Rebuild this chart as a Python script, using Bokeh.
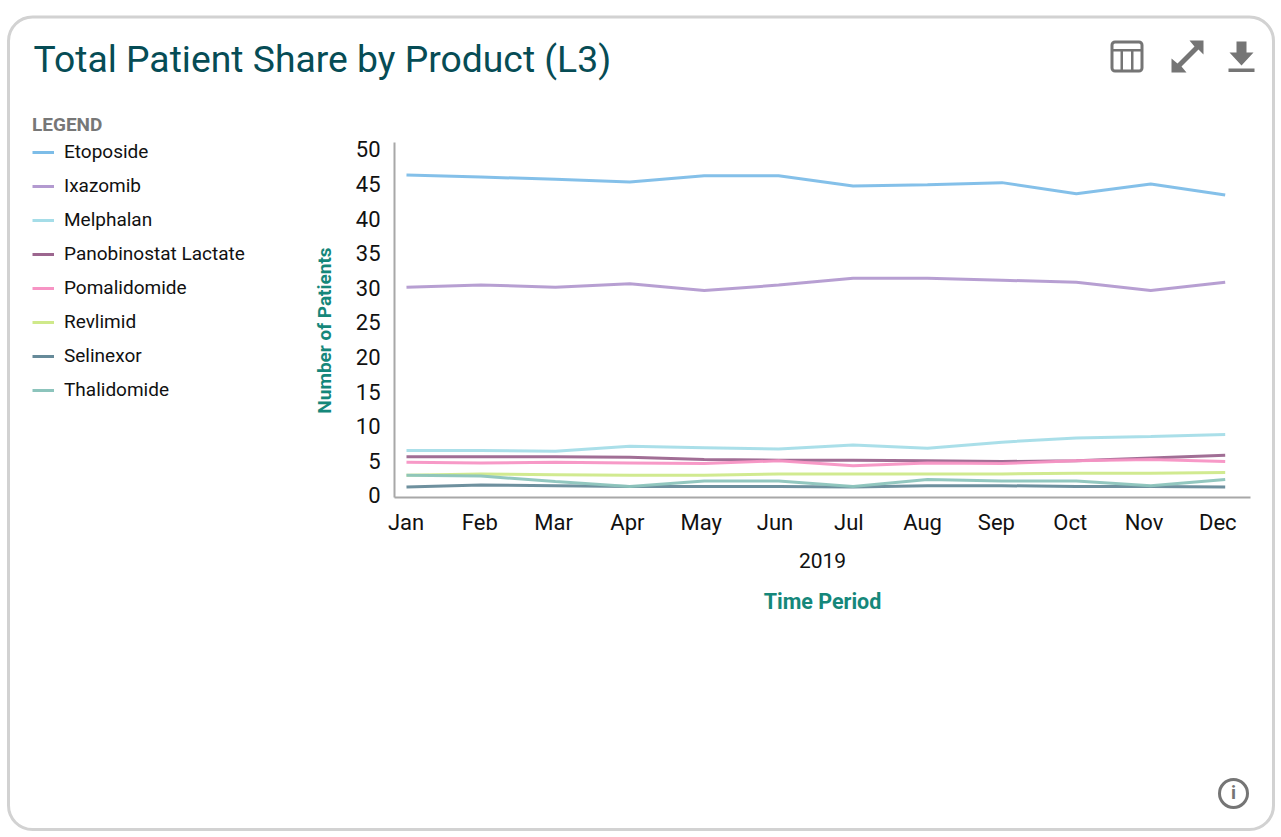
from bokeh.plotting import figure
from bokeh.models import (Range1d, FixedTicker, LinearAxis, Legend, LegendItem, Label,
                          BoxAnnotation, PolyAnnotation)
from bokeh.embed import file_html
from bokeh.resources import INLINE
import math

months = ["Jan", "Feb", "Mar", "Apr", "May", "Jun", "Jul", "Aug", "Sep", "Oct", "Nov", "Dec"]
y_ticks = [0, 5, 10, 15, 20, 25, 30, 35, 40, 45, 50]

etoposide = [46.5, 46.2, 45.9, 45.5, 46.4, 46.4, 44.9, 45.1, 45.4, 43.8, 45.2, 43.6]
ixazomib = [30.3, 30.6, 30.3, 30.8, 29.8, 30.6, 31.6, 31.6, 31.3, 31.0, 29.8, 31.0]
melphalan = [6.7, 6.7, 6.6, 7.3, 7.1, 6.9, 7.5, 7.0, 7.9, 8.5, 8.7, 9.0]
panobinostat = [5.8, 5.8, 5.8, 5.7, 5.4, 5.3, 5.3, 5.2, 5.1, 5.2, 5.6, 6.0]
pomalidomide = [5.0, 4.9, 5.0, 4.9, 4.8, 5.2, 4.5, 4.9, 4.8, 5.2, 5.4, 5.1]
revlimid = [3.1, 3.3, 3.2, 3.1, 3.1, 3.3, 3.3, 3.3, 3.3, 3.4, 3.4, 3.5]
selinexor = [1.4, 1.7, 1.6, 1.5, 1.5, 1.5, 1.4, 1.6, 1.6, 1.5, 1.5, 1.4]
thalidomide = [3.1, 3.0, 2.2, 1.5, 2.3, 2.3, 1.5, 2.5, 2.3, 2.3, 1.6, 2.5]

series = [
    ("Etoposide", etoposide, "#7dbde8"),
    ("Ixazomib", ixazomib, "#b39ad0"),
    ("Melphalan", melphalan, "#a5dde8"),
    ("Panobinostat Lactate", panobinostat, "#9c668f"),
    ("Pomalidomide", pomalidomide, "#f794c4"),
    ("Revlimid", revlimid, "#cfe98a"),
    ("Selinexor", selinexor, "#668a99"),
    ("Thalidomide", thalidomide, "#8cc4bc"),
]

FONT = "Roboto"
TEAL = "#15877a"
ICON = "#757575"
W, H = 1281, 837
xs = list(range(12))

# ---- back sheet: card, title, icons, legend, rotated axis title
bg = figure(width=W, height=H, output_backend="svg", toolbar_location=None, tools="",
            x_range=Range1d(100, 101), y_range=Range1d(100, 101),
            x_axis_location=None, y_axis_location=None, min_border=0)
bg.outline_line_color = None
bg.grid.visible = False


def cbox(l, t, r, b, **kw):
    bg.add_layout(BoxAnnotation(left=l, right=r, top=t, bottom=b, left_units="canvas", right_units="canvas",
                                top_units="canvas", bottom_units="canvas", editable=False,
                                line_alpha=1, **kw))


def cpoly(pts, color=ICON):
    bg.add_layout(PolyAnnotation(xs=[a for a, _ in pts], ys=[b for _, b in pts],
                                 xs_units="canvas", ys_units="canvas",
                                 fill_color=color, fill_alpha=1, line_color=None))


def ctext(x, y, text, **kw):
    bg.add_layout(Label(x=x, y=y, x_units="canvas", y_units="canvas", text=text,
                        text_font=FONT, **kw))


cbox(8, 16.5, 1273, 829, fill_alpha=0, line_color="#d2d2d2", line_width=3, border_radius=24)

ctext(33, 58, "Total Patient Share by Product (L3)", text_font_size="37.3px", text_color="#064c55",
      text_baseline="middle", text_align="left")
ctext(324, 330, "Number of Patients", text_font_size="19px", text_font_style="bold", text_color=TEAL,
      text_baseline="middle", text_align="center", angle=math.pi / 2)

# table icon
cbox(1111.5, 41.5, 1141.5, 70.5, fill_alpha=0, line_color=ICON, line_width=3, border_radius=3)
cbox(1111, 48.5, 1142, 51, fill_color=ICON, fill_alpha=1, line_color=None)
cbox(1120, 50, 1122.5, 71, fill_color=ICON, fill_alpha=1, line_color=None)
cbox(1130.5, 50, 1133, 71, fill_color=ICON, fill_alpha=1, line_color=None)

# expand icon
cpoly([(1203, 40), (1203, 54), (1198, 49), (1181, 66), (1186, 72), (1171, 72), (1171, 58),
       (1177, 63), (1194, 46), (1189, 40)])

# download icon
cpoly([(1236, 41), (1246, 41), (1246, 52), (1253, 52), (1241, 65), (1229, 52), (1236, 52)])
cbox(1228, 68, 1254, 71.5, fill_color=ICON, fill_alpha=1, line_color=None)

# info icon
cbox(1219, 779, 1247, 807, fill_alpha=0, line_color=ICON, line_width=3, border_radius=14)
ctext(1233, 792, "i", text_font_size="19px", text_font_style="bold", text_color=ICON,
      text_baseline="middle", text_align="center")

legend_items = []
for name, vals, col in series:
    swatch = bg.line(xs, vals, line_color=col, line_width=3)
    legend_items.append(LegendItem(label=name, renderers=[swatch]))
legend = Legend(items=legend_items, location=(32, 436), title="LEGEND",
                title_text_font=FONT, title_text_font_size="19px", title_text_font_style="bold",
                title_text_color="#777777", title_standoff=4,
                label_text_font=FONT, label_text_font_size="19px", label_text_color="#111111",
                glyph_width=22, glyph_height=20, label_standoff=10, label_height=20,
                spacing=11, margin=0, padding=0,
                background_fill_alpha=0, border_line_color=None)
bg.add_layout(legend, "center")

# ---- chart sheet, laid over the back sheet
p = figure(width=W, height=H, output_backend="svg", toolbar_location=None, tools="",
           frame_width=856, frame_height=355,
           x_range=Range1d(-0.161, 11.34), y_range=Range1d(-0.1, 51.2),
           x_axis_location=None, y_axis_location=None,
           margin=(-H, 0, 0, 0))
p.min_border_left = 394
p.min_border_right = 31
p.min_border_top = 142
p.min_border_bottom = 340
p.outline_line_color = None
p.grid.visible = False
p.background_fill_color = None
p.border_fill_color = None
p.extra_x_ranges = {"labels": Range1d(-0.156, 11.443)}
p.extra_y_ranges = {"labels": Range1d(-0.29, 51.01)}

xa = LinearAxis(x_range_name="labels", ticker=FixedTicker(ticks=list(range(12))),
                major_label_overrides={i: m for i, m in enumerate(months)},
                major_label_text_font=FONT, major_label_text_font_size="22px",
                major_label_text_color="#111111", major_tick_line_color=None, minor_tick_line_color=None,
                major_label_standoff=6, axis_line_color="#a8a8a8", axis_line_width=2,
                axis_label="2019", axis_label_text_font=FONT, axis_label_text_font_size="21px",
                axis_label_text_font_style="normal", axis_label_text_color="#111111",
                axis_label_standoff=15)
p.add_layout(xa, "below")

xa2 = LinearAxis(ticker=FixedTicker(ticks=[]), axis_line_color=None,
                 major_tick_line_color=None, minor_tick_line_color=None,
                 axis_label="Time Period", axis_label_text_font=FONT,
                 axis_label_text_font_size="21.5px", axis_label_text_font_style="bold",
                 axis_label_text_color=TEAL, axis_label_standoff=18)
p.add_layout(xa2, "below")

ya = LinearAxis(y_range_name="labels", ticker=FixedTicker(ticks=y_ticks),
                major_label_text_font=FONT, major_label_text_font_size="22px",
                major_label_text_color="#111111", major_tick_line_color=None, minor_tick_line_color=None,
                major_label_standoff=8, axis_line_color="#a8a8a8", axis_line_width=2)
p.add_layout(ya, "left")

for name, vals, col in series:
    p.line(xs, vals, line_color=col, line_width=3, line_alpha=0.95)

open("out.html", "w").write(file_html([bg, p], INLINE))
